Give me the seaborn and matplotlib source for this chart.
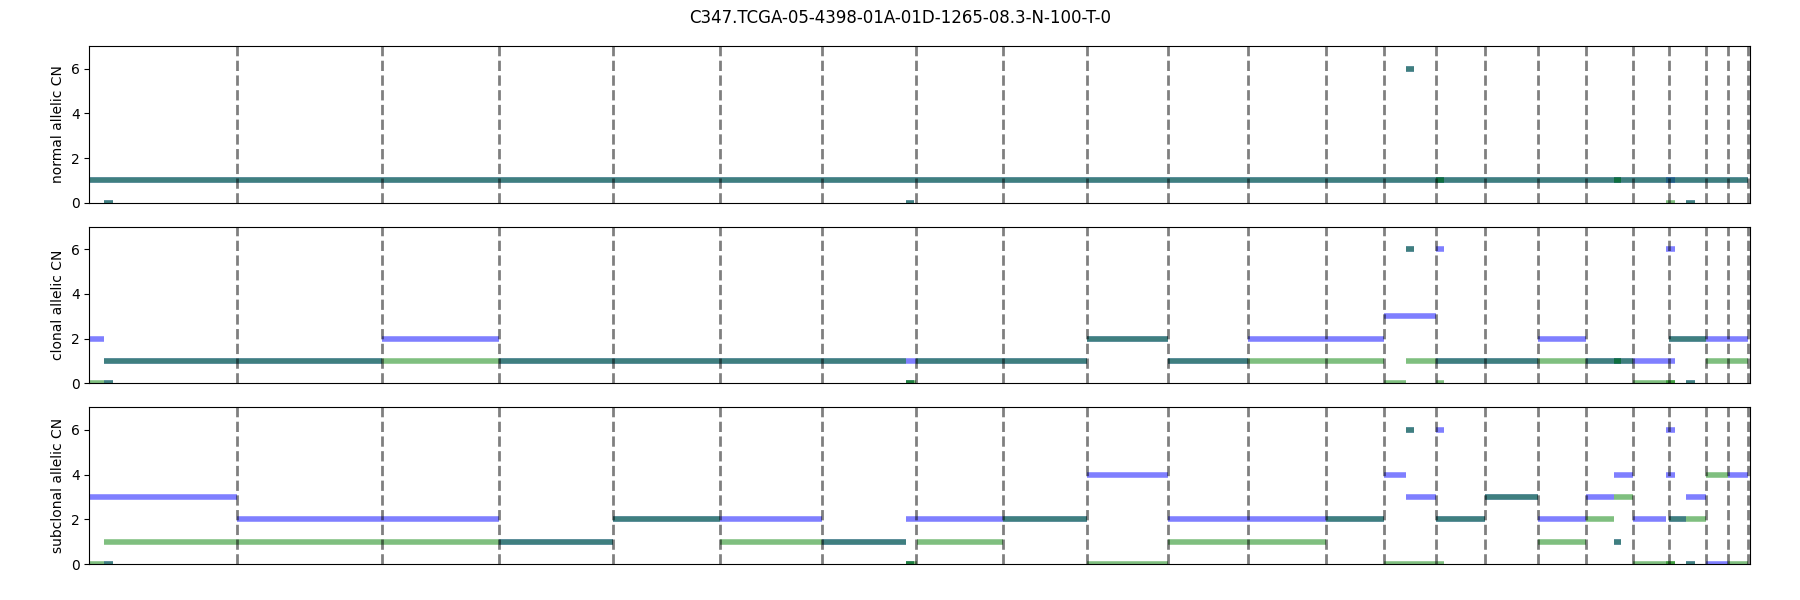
import matplotlib
matplotlib.use("Agg")
import matplotlib.pyplot as plt
import seaborn as sns
import pandas as pd

title = "C347.TCGA-05-4398-01A-01D-1265-08.3-N-100-T-0"

# chromosome ends, cumulative genome position (Mb)
chrom_ends = [249, 495, 692, 885, 1066, 1239, 1397, 1544, 1686, 1823, 1959,
              2091, 2188, 2276, 2359, 2450, 2531, 2610, 2670, 2733, 2770, 2805]

# normal panel segments
normal_start = [0, 25, 1380, 2226, 2276, 2577, 2666, 2700]
normal_end = [2805, 39, 1394, 2239, 2290, 2590, 2681, 2714]
normal_major = [1, 0, 0, 6, 1, 1, 1, 0]
normal_minor = [1, 0, 0, 6, 1, 1, 0, 0]

# clonal panel segments
clonal_start = [0, 25, 25, 495, 692, 1380, 1380, 1397, 1686, 1823, 1959, 2188,
                2226, 2226, 2276, 2276, 2450, 2531, 2577, 2610, 2666, 2700, 2670, 2733]
clonal_end = [25, 39, 495, 692, 1380, 1397, 1394, 1686, 1823, 1959, 2188, 2226,
              2276, 2239, 2290, 2450, 2531, 2610, 2590, 2681, 2681, 2714, 2733, 2805]
clonal_major = [2, 0, 1, 2, 1, 1, 0, 1, 2, 1, 2, 3, 3, 6, 6, 1, 2, 1, 1, 1, 6, 0, 2, 2]
clonal_minor = [0, 0, 1, 1, 1, 0, 0, 1, 2, 1, 1, 0, 1, 6, 0, 1, 1, 1, 1, 0, 0, 0, 2, 1]

# subclonal panel segments
sub_start = [0, 25, 25, 249, 692, 885, 1066, 1239, 1380, 1399, 1380, 1544, 1686,
             1823, 2091, 2188, 2226, 2226, 2276, 2276, 2359, 2450, 2531, 2577, 2577,
             2610, 2666, 2666, 2670, 2700, 2700, 2733, 2770]
sub_end = [25, 39, 249, 692, 885, 1066, 1239, 1380, 1399, 1544, 1394, 1686, 1823,
           2091, 2188, 2226, 2276, 2239, 2290, 2359, 2450, 2531, 2577, 2610, 2590,
           2666, 2681, 2681, 2700, 2733, 2714, 2770, 2805]
sub_major = [3, 0, 3, 2, 1, 2, 2, 1, 2, 2, 0, 2, 4, 2, 2, 4, 3, 6, 6, 2, 3, 2, 3, 4, 1,
             2, 6, 4, 2, 3, 0, 0, 4]
sub_minor = [0, 0, 1, 1, 1, 2, 1, 1, 0, 1, 0, 2, 0, 1, 2, 0, 0, 6, 0, 2, 3, 1, 2, 3, 1,
             0, 0, 0, 2, 2, 0, 4, 0]

panels = [
    ("normal allelic CN", normal_start, normal_end, normal_major, normal_minor),
    ("clonal allelic CN", clonal_start, clonal_end, clonal_major, clonal_minor),
    ("subclonal allelic CN", sub_start, sub_end, sub_major, sub_minor),
]


def seg_frame(starts, ends, cn):
    rows = []
    for i, (s, e, c) in enumerate(zip(starts, ends, cn)):
        rows.append((i, s, c))
        rows.append((i, e, c))
    return pd.DataFrame(rows, columns=["seg", "pos", "cn"])


fig, axes = plt.subplots(3, 1, figsize=(18, 6), dpi=100)
fig.subplots_adjust(left=0.0497, right=0.972, top=0.923, bottom=0.06, hspace=0.154)

for ax, (label, st, en, maj, mnr) in zip(axes, panels):
    # major allele in blue, minor in green (overlap gives teal)
    for cn, col in ((maj, "blue"), (mnr, "green")):
        df = seg_frame(st, en, cn)
        sns.lineplot(data=df, x="pos", y="cn", units="seg", estimator=None,
                     sort=False, color=col, alpha=0.5, linewidth=4,
                     solid_capstyle="butt", ax=ax)
    for x in chrom_ends:
        ax.axvline(x, color="k", alpha=0.5, linestyle="--", linewidth=2)
    ax.set_xlim(0, 2807)
    ax.set_ylim(0, 7)
    ax.set_yticks([0, 2, 4, 6])
    ax.set_xticks([])
    ax.set_xlabel("")
    ax.set_ylabel(label)

fig.suptitle(title, fontsize=12, y=0.985)
fig.savefig("out.png")
